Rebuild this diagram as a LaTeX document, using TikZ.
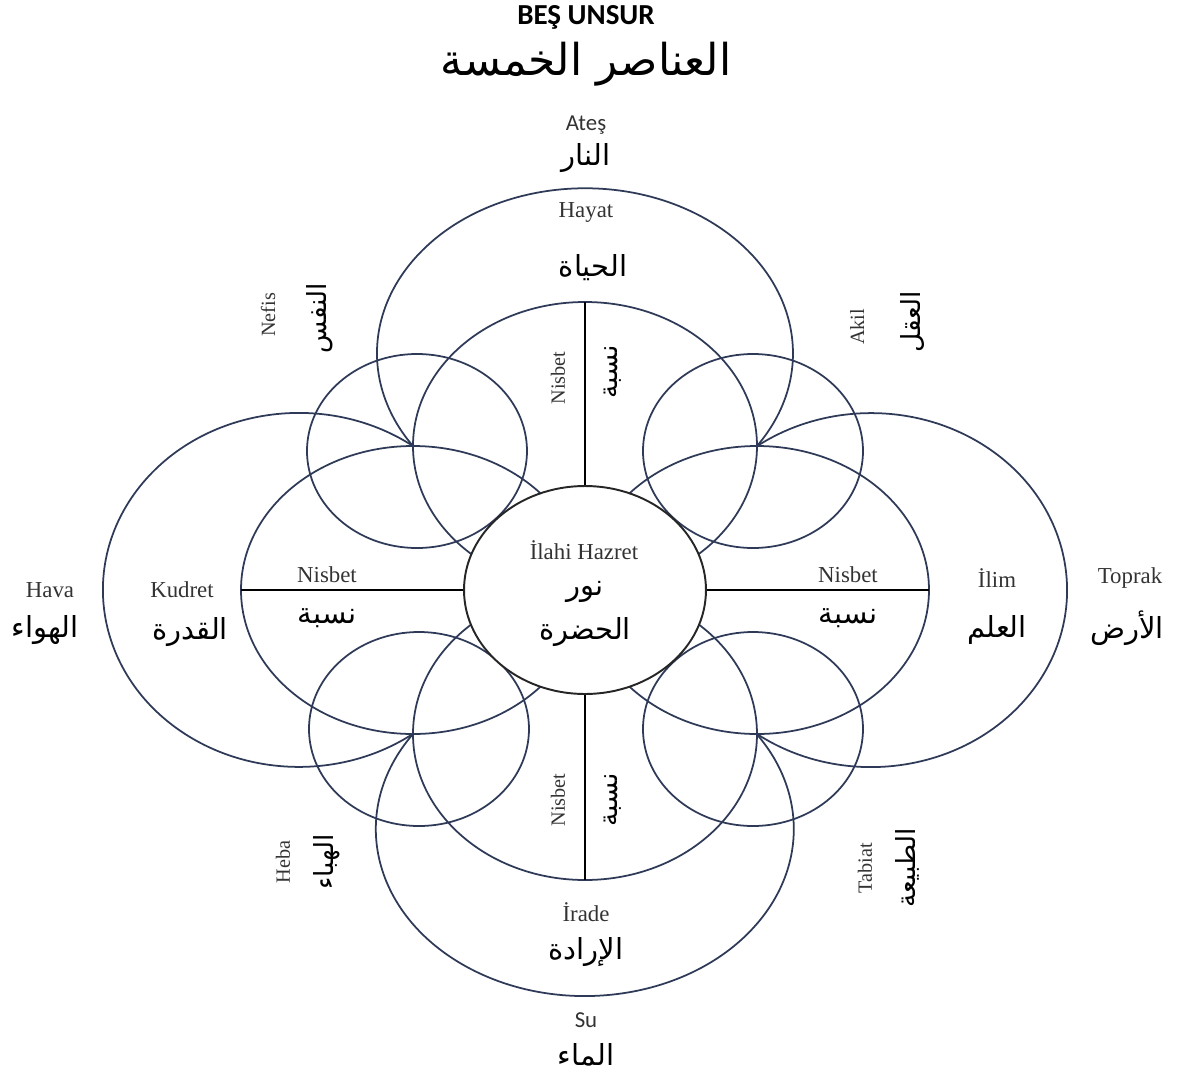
\documentclass[tikz,border=0pt]{standalone}
\usepackage{fontspec}
\setmainfont{Liberation Serif}
\newfontfamily\calibfont{Carlito}
\newfontfamily\arabicfont[Script=Arabic]{DejaVu Sans}
\TeXXeTstate=1
\usetikzlibrary{positioning,shapes.geometric}
\definecolor{RingBlue}{HTML}{2E3A57}
\definecolor{LabelGray}{HTML}{333333}

\tikzset{
  ring/.style={draw=RingBlue, line width=1pt},
  nisbetline/.style={draw=black, line width=1.5pt},
  trlabel/.style={font=\fontsize{13}{15}\selectfont, text=LabelGray, inner sep=0pt},
  trside/.style={font=\fontsize{11.5}{13}\selectfont, text=LabelGray, rotate=90, inner sep=0pt},
  arlabel/.style={font=\arabicfont\fontsize{16.5}{18}\selectfont, inner sep=0pt},
  arside/.style={font=\arabicfont\fontsize{15}{17}\selectfont, rotate=90, inner sep=0pt},
  sanslabel/.style={font=\calibfont\fontsize{13}{15}\selectfont, text=LabelGray, inner sep=0pt},
}

\begin{document}
\begin{tikzpicture}[x=0.02cm, y=0.02cm]
  \useasboundingbox (-585,590) rectangle (595,-483);

  % Title
  \node[font=\calibfont\bfseries\fontsize{16.5}{18}\selectfont, inner sep=0pt] (title) at (1,573) {BEŞ UNSUR};
  \node[font=\arabicfont\fontsize{25}{27}\selectfont, inner sep=0pt] (titlear) at (1,526) {\beginR العناصر الخمسة\endR};

  % Crossing points
  \coordinate (xNW) at (-172,144);
  \coordinate (xNE) at (172,144);
  \coordinate (xSW) at (-172,-144);
  \coordinate (xSE) at (172,-144);

  % Big rings (arcs between crossing points)
  \draw[ring] (xNE) arc [start angle=-34.2, end angle=214.2, x radius=208, y radius=165];
  \draw[ring] (xSW) arc [start angle=145.3, end angle=394.7, x radius=209, y radius=167];
  \draw[ring] (xNW) arc [start angle=54.4, end angle=305.6, x radius=196, y radius=177];
  \draw[ring] (xSE) arc [start angle=-125.6, end angle=125.6, x radius=196, y radius=177];

  % Inner rings
  \draw[ring] (0,144) ellipse [x radius=172, y radius=144];
  \draw[ring] (0,-144) ellipse [x radius=172, y radius=146];
  \draw[ring] (-172,0) ellipse [x radius=172, y radius=144];
  \draw[ring] (172,0) ellipse [x radius=172, y radius=144];

  % Small rings
  \draw[ring] (-168,139) ellipse [x radius=110, y radius=97];
  \draw[ring] (168,139) ellipse [x radius=110, y radius=97];
  \draw[ring] (-166,-139) ellipse [x radius=110, y radius=97];
  \draw[ring] (168,-139) ellipse [x radius=110, y radius=97];

  % Center
  \node[ellipse, draw=black!85, line width=1.1pt, fill=white, minimum width=4.84cm, minimum height=4.16cm, inner sep=0pt] (hazret) at (0,0) {};

  % Nisbet lines
  \coordinate (nisN) at (0,288);
  \coordinate (nisS) at (0,-290);
  \coordinate (nisW) at (-344,0);
  \coordinate (nisE) at (344,0);
  \draw[nisbetline] (hazret.north) -- (nisN);
  \draw[nisbetline] (hazret.south) -- (nisS);
  \draw[nisbetline] (hazret.west) -- (nisW);
  \draw[nisbetline] (hazret.east) -- (nisE);

  % Center texts
  \node[trlabel] (ilahi) at (-1,40) {İlahi Hazret};
  \node[arlabel] (nur) at (0,-2) {\beginR نور\endR};
  \node[arlabel] (hadra) at (0,-42) {\beginR الحضرة\endR};

  % Top
  \node[sanslabel] (ates) at (1,465) {Ateş};
  \node[arlabel] (nar) at (1,432) {\beginR النار\endR};
  \node[trlabel] (hayat) at (1,378) {Hayat};
  \node[arlabel] (hayah) at (8,322) {\beginR الحياة\endR};
  \node[trside] (nisbetN) at (-27,212) {Nisbet};
  \node[arside] (nisbaN) at (28,218) {\beginR نسبة\endR};

  % Diagonals
  \node[trside] (nefis) at (-317,275) {Nefis};
  \node[arside] (nafs) at (-265,272) {\beginR النفس\endR};
  \node[trside] (akil) at (272,263) {Akil};
  \node[arside] (aql) at (327,268) {\beginR العقل\endR};
  \node[trside] (heba) at (-302,-272) {Heba};
  \node[arside] (haba) at (-258,-272) {\beginR الهباء\endR};
  \node[trside] (tabiat) at (280,-278) {Tabiat};
  \node[arside] (tabia) at (322,-278) {\beginR الطبيعة\endR};

  % Left
  \node[trlabel] (hava) at (-535,0) {Hava};
  \node[arlabel] (hawa) at (-540,-40) {\beginR الهواء\endR};
  \node[trlabel] (kudret) at (-403,0) {Kudret};
  \node[arlabel] (qudra) at (-395,-42) {\beginR القدرة\endR};
  \node[trlabel] (nisbetW) at (-258,15) {Nisbet};
  \node[arlabel] (nisbaW) at (-258,-28) {\beginR نسبة\endR};

  % Right
  \node[trlabel] (nisbetE) at (263,15) {Nisbet};
  \node[arlabel] (nisbaE) at (263,-28) {\beginR نسبة\endR};
  \node[trlabel] (ilim) at (412,12) {İlim};
  \node[arlabel] (ilm) at (412,-40) {\beginR العلم\endR};
  \node[trlabel] (toprak) at (545,12) {Toprak};
  \node[arlabel] (ard) at (542,-38) {\beginR الأرض\endR};

  % Bottom
  \node[trside] (nisbetS) at (-27,-210) {Nisbet};
  \node[arside] (nisbaS) at (28,-210) {\beginR نسبة\endR};
  \node[trlabel] (irade) at (1,-322) {İrade};
  \node[arlabel] (irada) at (1,-362) {\beginR الإرادة\endR};
  \node[sanslabel] (su) at (1,-430) {Su};
  \node[arlabel] (maa) at (1,-465) {\beginR الماء\endR};
\end{tikzpicture}
\end{document}
